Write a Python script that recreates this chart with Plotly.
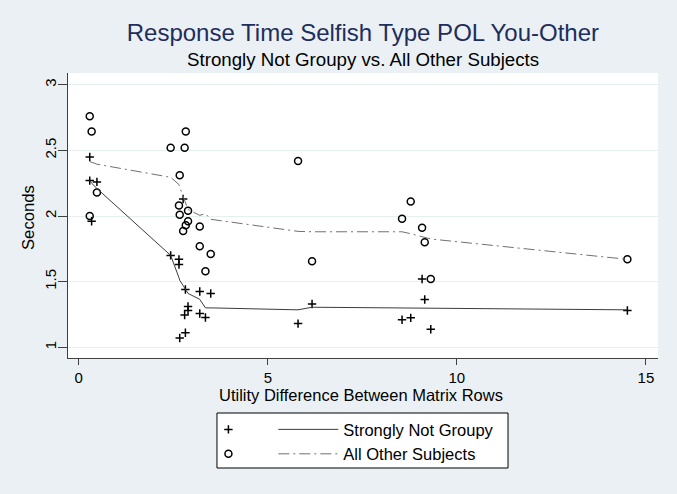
import plotly.graph_objs as go

# scatter points
sng_x = [0.29, 0.29, 0.34, 0.48, 2.43, 2.65, 2.65, 2.67, 2.76, 2.80, 2.82, 2.82, 2.89,
         2.89, 3.20, 3.20, 3.35, 3.49, 5.80, 6.17, 8.55, 8.78, 9.08, 9.15, 9.31, 14.51]
sng_y = [2.45, 2.27, 1.96, 2.26, 1.70, 1.67, 1.63, 1.07, 2.13, 1.245, 1.44, 1.11, 1.31,
         1.28, 1.425, 1.257, 1.227, 1.41, 1.18, 1.33, 1.21, 1.224, 1.52, 1.364, 1.137, 1.28]

oth_x = [0.29, 0.29, 0.34, 0.48, 2.43, 2.65, 2.67, 2.67, 2.76, 2.80, 2.83, 2.83, 2.89,
         2.89, 3.20, 3.20, 3.35, 3.49, 5.80, 6.17, 8.55, 8.78, 9.08, 9.15, 9.31, 14.51]
oth_y = [2.76, 2.00, 2.645, 2.18, 2.52, 2.08, 2.31, 2.01, 1.885, 2.52, 2.645, 1.93, 2.04,
         1.96, 1.92, 1.77, 1.58, 1.71, 2.42, 1.655, 1.98, 2.11, 1.91, 1.80, 1.52, 1.67]

# lowess fitted lines
sng_fit_x = [0.29, 0.34, 0.48, 2.43, 2.65, 2.67, 2.76, 2.80, 2.82, 2.89, 3.20, 3.35, 3.49,
             5.80, 6.17, 8.55, 8.78, 9.08, 9.15, 9.31, 14.51]
sng_fit_y = [2.27, 2.25, 2.21, 1.70, 1.53, 1.51, 1.47, 1.45, 1.44, 1.41, 1.365, 1.30, 1.30,
             1.285, 1.305, 1.30, 1.30, 1.302, 1.302, 1.30, 1.285]

oth_fit_x = [0.29, 0.34, 0.48, 2.43, 2.65, 2.67, 2.76, 2.80, 2.83, 2.89, 3.20, 3.35, 3.49,
             5.80, 6.17, 8.55, 8.78, 9.08, 9.15, 9.31, 14.51]
oth_fit_y = [2.415, 2.41, 2.395, 2.295, 2.24, 2.22, 2.15, 2.12, 2.09, 2.05, 2.005, 2.018, 1.975,
             1.883, 1.88, 1.88, 1.865, 1.84, 1.835, 1.825, 1.67]

x_ticks = [0, 5, 10, 15]
y_ticks = [1, 1.5, 2, 2.5, 3]
y_tick_labels = ['1', '1.5', '2', '2.5', '3']

font = 'Liberation Sans, Arial, sans-serif'
bg = '#eaf0f3'

fig = go.Figure()
fig.add_trace(go.Scatter(x=sng_x, y=sng_y, mode='markers', name=' ', legend='legend2',
                         marker=dict(symbol='cross-thin', size=6, line=dict(color='black', width=1.5))))
fig.add_trace(go.Scatter(x=oth_x, y=oth_y, mode='markers', name=' ', legend='legend2',
                         marker=dict(symbol='circle-open', size=7, color='black', line=dict(width=1.5))))
fig.add_trace(go.Scatter(x=sng_fit_x, y=sng_fit_y, mode='lines', name='Strongly Not Groupy',
                         line=dict(color='#3c3c3c', width=1)))
fig.add_trace(go.Scatter(x=oth_fit_x, y=oth_fit_y, mode='lines', name='All Other Subjects',
                         line=dict(color='#707070', width=1, dash='11px,4px,2px,4px')))

fig.update_layout(
    width=677, height=494,
    paper_bgcolor=bg, plot_bgcolor='white',
    margin=dict(l=68, r=19, t=73, b=136),
    font=dict(family=font, size=15, color='black'),
    title=dict(text='Response Time Selfish Type POL You-Other', x=0.536, xanchor='center',
               y=0.933, yanchor='middle', font=dict(size=24, color='#1f2d5c')),
    annotations=[
        dict(text='Strongly Not Groupy vs. All Other Subjects', xref='paper', yref='paper',
             x=0.5, y=1.049, xanchor='center', yanchor='middle', showarrow=False, font=dict(size=18.7)),
        dict(text='Utility Difference Between Matrix Rows', xref='paper', yref='paper',
             x=0.4966, y=-0.1298, xanchor='center', yanchor='middle', showarrow=False, font=dict(size=16.5)),
        dict(text='Seconds', xref='paper', yref='paper', textangle=-90,
             x=-0.0678, y=0.4947, xanchor='center', yanchor='middle', showarrow=False, font=dict(size=16.7)),
    ],
    xaxis=dict(range=[-0.285, 15.32], tickvals=x_ticks, showgrid=False, zeroline=False,
               showline=True, linecolor='#404040', linewidth=1, ticks='outside', ticklen=6,
               tickcolor='#404040', automargin=False),
    yaxis=dict(range=[0.918, 3.09], tickvals=y_ticks, ticktext=y_tick_labels, tickangle=-90,
               showgrid=True, gridcolor='#e6eff2', gridwidth=1, zeroline=False,
               showline=True, linecolor='#404040', linewidth=1, ticks='outside', ticklen=9,
               ticklabelstandoff=-4, tickcolor='#404040', automargin=False),
    shapes=[dict(type='rect', xref='paper', yref='paper', x0=0.2525, x1=0.7458, y0=-0.386, y1=-0.193,
                 fillcolor='white', line=dict(color='black', width=1), layer='below')],
    legend=dict(x=0.348, y=-0.19, xanchor='left', yanchor='top', bgcolor='rgba(0,0,0,0)',
                itemwidth=60, tracegroupgap=0, font=dict(size=16.5)),
    legend2=dict(x=0.238, y=-0.19, xanchor='left', yanchor='top', bgcolor='rgba(0,0,0,0)',
                 itemwidth=30, tracegroupgap=0, font=dict(size=16.5)),
    showlegend=True,
)

fig.write_html("out.html", config={'displayModeBar': False},
               post_script="document.body.style.margin='0';")
